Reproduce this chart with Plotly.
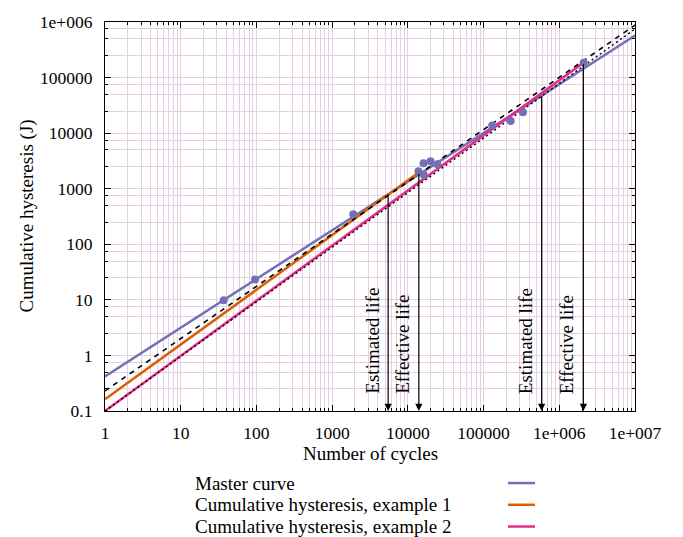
import numpy as np
import plotly.graph_objects as go

# ---- data ----
master_x = [1, 1e7]
master_y = [0.42, 5.7e5]
ex1_x = [1, 13900]
ex1_y = [0.163, 1950]
ex2_x = [1, 2.08e6]
ex2_y = [0.1, 1.85e5]
fit1_x = [1, 1e7]          # black dashed
fit1_y = [0.23, 8.8e5]
fit2_x = [1, 1e7]          # black dotted
fit2_y = [0.1, 7.5e5]

pts_x = [37, 96, 1900, 13800, 16300, 16100, 19900, 24600, 130000, 228000, 331000, 2.1e6]
pts_y = [9.8, 23.3, 347, 2070, 1760, 2870, 3120, 2760, 13700, 16500, 23800, 1.84e5]

arrow_x = [5490, 13960, 5.85e5, 2.08e6]
arrow_top = [780, 1950, 4.9e4, 1.85e5]
arrow_labels = ["Estimated life", "Effective life", "Estimated life", "Effective life"]

x_tickvals = [1, 10, 100, 1000, 1e4, 1e5, 1e6, 1e7]
x_ticktext = ["1", "10", "100", "1000", "10000", "100000", "1e+006", "1e+007"]
y_tickvals = [0.1, 1, 10, 100, 1000, 1e4, 1e5, 1e6]
y_ticktext = ["0.1", "1", "10", "100", "1000", "10000", "100000", "1e+006"]

legend_labels = ["Master curve", "Cumulative hysteresis, example 1", "Cumulative hysteresis, example 2"]
c_master = "#7570b3"
c_ex1 = "#d95f02"
c_ex2 = "#e7298a"
legend_colors = [c_master, c_ex1, c_ex2]

FONT = "Liberation Serif"
grid_c = "#e5cfe5"

fig = go.Figure()
fig.add_trace(go.Scatter(x=master_x, y=master_y, mode="lines",
                         line=dict(color=c_master, width=2.5), showlegend=False))
fig.add_trace(go.Scatter(x=ex1_x, y=ex1_y, mode="lines",
                         line=dict(color=c_ex1, width=2.5), showlegend=False))
fig.add_trace(go.Scatter(x=ex2_x, y=ex2_y, mode="lines",
                         line=dict(color=c_ex2, width=2.5), showlegend=False))
fig.add_trace(go.Scatter(x=fit1_x, y=fit1_y, mode="lines",
                         line=dict(color="black", width=1.6, dash="5px,5px"), showlegend=False))
fig.add_trace(go.Scatter(x=fit2_x, y=fit2_y, mode="lines",
                         line=dict(color="black", width=1.4, dash="2px,3px"), showlegend=False))
fig.add_trace(go.Scatter(x=pts_x, y=pts_y, mode="markers",
                         marker=dict(color=c_master, size=8), showlegend=False))

annotations = []
for xv, yt, lab in zip(arrow_x, arrow_top, arrow_labels):
    annotations.append(dict(
        x=np.log10(xv), y=np.log10(0.1), ax=np.log10(xv), ay=np.log10(yt),
        xref="x", yref="y", axref="x", ayref="y",
        showarrow=True, arrowhead=2, arrowsize=1.2, arrowwidth=1.2,
        arrowcolor="black", text=""))
    annotations.append(dict(
        x=np.log10(xv), y=np.log10(0.1), xref="x", yref="y",
        text=lab, showarrow=False, textangle=-90,
        xanchor="right", yanchor="bottom", xshift=-4, yshift=15,
        font=dict(family=FONT, size=19, color="black")))

# axis titles
annotations.append(dict(x=0.5, y=0, xref="paper", yref="paper", yshift=-42,
                        text="Number of cycles", showarrow=False,
                        xanchor="center", yanchor="middle",
                        font=dict(family=FONT, size=19, color="black")))
annotations.append(dict(x=0, y=0.5, xref="paper", yref="paper", xshift=-79,
                        text="Cumulative hysteresis (J)", showarrow=False, textangle=-90,
                        xanchor="center", yanchor="middle",
                        font=dict(family=FONT, size=19, color="black")))

# legend (text left, line sample right)
shapes = []
W, H = 530.0, 394.0
for i, (lab, col) in enumerate(zip(legend_labels, legend_colors)):
    ypix = 73 + 22 * i
    yp = -ypix / H
    annotations.append(dict(x=(193 - 105) / W, y=yp, xref="paper", yref="paper",
                            text=lab, showarrow=False, xanchor="left", yanchor="middle",
                            font=dict(family=FONT, size=19, color="black")))
    shapes.append(dict(type="line", xref="paper", yref="paper",
                       x0=(508 - 105) / W, x1=(535 - 105) / W, y0=yp, y1=yp,
                       line=dict(color=col, width=2.5)))

axis_common = dict(
    type="log", showline=True, linecolor="black", linewidth=1.2, mirror="allticks",
    ticks="inside", ticklen=6, tickcolor="black", tickwidth=1,
    showgrid=True, gridcolor=grid_c, gridwidth=1, zeroline=False,
    tickfont=dict(family=FONT, size=17.5, color="black"),
)

fig.update_xaxes(**axis_common, range=[0, 7], tickmode="array",
                 tickvals=x_tickvals, ticktext=x_ticktext, ticklabelstandoff=6,
                 minor=dict(dtick="D1", showgrid=True, gridcolor=grid_c, gridwidth=1,
                            ticks="inside", ticklen=3, tickcolor="black"))
y_minor = [m * 10.0 ** k for k in range(-1, 6) for m in (2.5, 5, 7.5)]
fig.update_yaxes(**axis_common, range=[-1, 6], tickmode="array",
                 tickvals=y_tickvals, ticktext=y_ticktext, ticklabelstandoff=8,
                 minor=dict(tickmode="array", tickvals=y_minor, showgrid=True,
                            gridcolor=grid_c, gridwidth=1,
                            ticks="inside", ticklen=3, tickcolor="black"))

fig.update_layout(
    width=683, height=537,
    margin=dict(l=105, r=48, t=17, b=126),
    paper_bgcolor="white", plot_bgcolor="white",
    annotations=annotations, shapes=shapes, showlegend=False,
)
fig.write_html("out.html")
